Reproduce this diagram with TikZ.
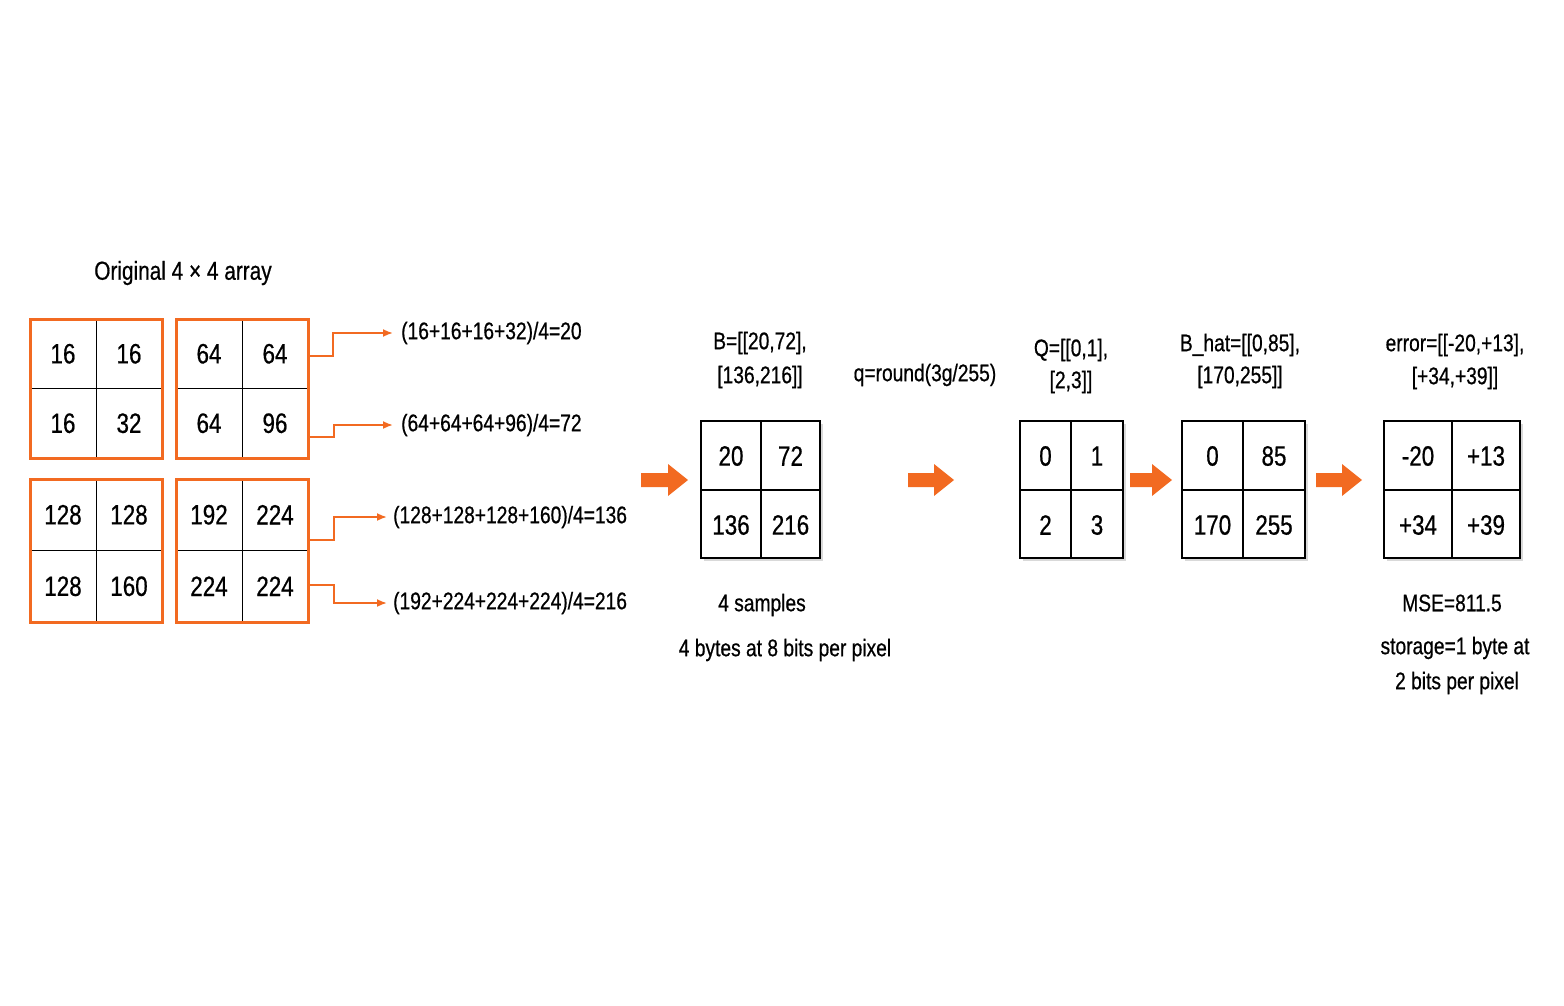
\documentclass[tikz,border=0pt]{standalone}
\usepackage{fontspec}
\usetikzlibrary{arrows.meta}
\setmainfont[FakeStretch=0.8,FakeBold=0.6]{Liberation Sans}
\definecolor{org}{HTML}{F26A21}
\begin{document}
\begin{tikzpicture}[x=1pt,y=-1pt,
  cell/.style={font=\fontsize{28}{32}\selectfont},
  lab/.style={font=\fontsize{24}{28}\selectfont},
  conn/.style={org,line width=1.8pt,-{Latex[length=10pt,width=8pt]}},
  fat/.style={fill=org,draw=none}]
\useasboundingbox (0,0) rectangle (1564,1006);
\node[lab,font=\fontsize{26}{30}\selectfont] (title) at (183,273) {Original 4 × 4 array};
% original blocks
\foreach \x/\y/\a/\b/\c/\d/\n in {30/319/16/16/16/32/A,176/319/64/64/64/96/Bk,30/479/128/128/128/160/C,176/479/192/224/224/224/D}{
  \pgfmathsetmacro{\h}{\y==319?139:143}
  \draw[black,line width=1pt] (\x+66,\y) -- (\x+66,\y+\h) (\x,\y+\h/2) -- (\x+132,\y+\h/2);
  \draw[org,line width=3pt] (\x,\y) rectangle ++(132,\h);
  \node[cell] (\n1) at (\x+33,\y+\h/4) {\a};
  \node[cell] (\n2) at (\x+99,\y+\h/4) {\b};
  \node[cell] (\n3) at (\x+33,\y+3*\h/4) {\c};
  \node[cell] (\n4) at (\x+99,\y+3*\h/4) {\d};
}
\node[lab,anchor=west,inner sep=2pt] (l1) at (399,333) {(16+16+16+32)/4=20};
\node[lab,anchor=west,inner sep=2pt] (l2) at (399,425) {(64+64+64+96)/4=72};
\node[lab,anchor=west,inner sep=2pt] (l3) at (391,517) {(128+128+128+160)/4=136};
\node[lab,anchor=west,inner sep=2pt] (l4) at (391,603) {(192+224+224+224)/4=216};
\coordinate (s1) at (308,356); \coordinate (s2) at (308,437);
\coordinate (s3) at (308,540); \coordinate (s4) at (308,585);
\draw[conn] (s1) -- (333,356) |- ([xshift=-6pt]l1.west);
\draw[conn] (s2) -- (334,437) |- ([xshift=-6pt]l2.west);
\draw[conn] (s3) -- (334,540) |- ([xshift=-4pt]l3.west);
\draw[conn] (s4) -- (334,585) |- ([xshift=-4pt]l4.west);
% right matrices
\newcommand\mat[8]{%
  \fill[black!15] (#2+3,424) rectangle (#4+3,561);
  \draw[black,line width=1.8pt,fill=white] (#2,421) rectangle (#4,558);
  \draw[black,line width=1.2pt] (#3,421) -- (#3,558) (#2,490) -- (#4,490);
  \node[cell] (#1a) at ({(#2+#3)/2},456) {#5};
  \node[cell] (#1b) at ({(#3+#4)/2},456) {#6};
  \node[cell] (#1c) at ({(#2+#3)/2},525) {#7};
  \node[cell] (#1d) at ({(#3+#4)/2},525) {#8};}
\mat{m}{701}{761}{820}{20}{72}{136}{216}
\mat{q}{1020}{1071}{1123}{0}{1}{2}{3}
\mat{h}{1182}{1243}{1305}{0}{85}{170}{255}
\mat{e}{1384}{1452}{1520}{-20}{+13}{+34}{+39}
\node[lab] (bl1) at (760,343) {B=[[20,72],};
\node[lab] (bl2) at (760,377) {[136,216]]};
\node[lab] (qf) at (925,375) {q=round(3g/255)};
\node[lab] (ql1) at (1071,350) {Q=[[0,1],};
\node[lab] (ql2) at (1071,382) {[2,3]]};
\node[lab] (hl1) at (1240,345) {B\_hat=[[0,85],};
\node[lab] (hl2) at (1240,377) {[170,255]]};
\node[lab] (el1) at (1455,345) {error=[[-20,+13],};
\node[lab] (el2) at (1455,378) {[+34,+39]]};
\node[lab] (n1) at (762,605) {4 samples};
\node[lab] (n2) at (785,650) {4 bytes at 8 bits per pixel};
\node[lab] (n3) at (1452,603) {MSE=811.5};
\node[lab] (n4) at (1455,648) {storage=1 byte at};
\node[lab] (n5) at (1457,683) {2 bits per pixel};
% fat arrows
\foreach \x/\l in {641/47,908/46,1130/42,1316/46}{
  \fill[fat] (\x,473) -- (\x+\l-20,473) -- (\x+\l-20,464) -- (\x+\l,480) -- (\x+\l-20,496) -- (\x+\l-20,487) -- (\x,487) -- cycle;}
\end{tikzpicture}
\end{document}
